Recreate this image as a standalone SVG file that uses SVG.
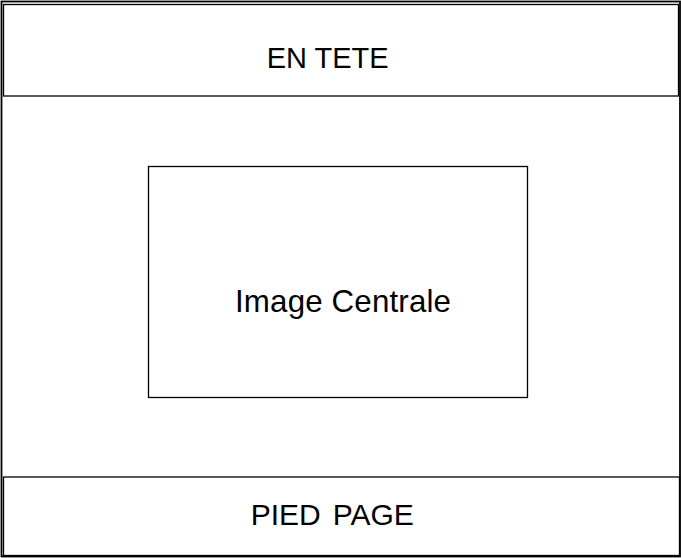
<svg xmlns="http://www.w3.org/2000/svg" width="681" height="558" viewBox="0 0 681 558">
<style>
.box{fill:none;stroke:#000;stroke-width:1.3}
.outer{fill:#fff;stroke:#000;stroke-width:1.8}
.lbl{font-family:"Liberation Sans",Arial,sans-serif;fill:#000}
</style>
<rect width="681" height="558" fill="#fff"/>
<g id="page"><rect class="outer" x="1.5" y="1.5" width="678.5" height="555"/></g>
<g id="header">
<rect class="box" x="3.5" y="4.5" width="675" height="91.5"/>
<text class="lbl" x="266.7" y="68" font-size="29">EN TETE</text>
</g>
<g id="center">
<rect class="box" x="148.5" y="166.5" width="379" height="231"/>
<text class="lbl" x="235" y="312" font-size="31.3" textLength="216" lengthAdjust="spacing">Image Centrale</text>
</g>
<g id="footer">
<rect class="box" x="3.5" y="477" width="676" height="78.5"/>
<text class="lbl" y="524.5" font-size="30"><tspan x="250.7">PIED</tspan><tspan x="332.7">PAGE</tspan></text>
</g>
<g id="connectors"></g>
</svg>
